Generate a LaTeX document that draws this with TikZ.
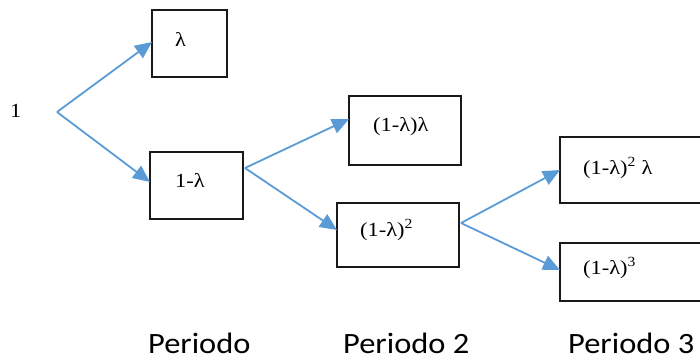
\documentclass[tikz,border=0pt]{standalone}
\usepackage{fontspec}
\setmainfont{Liberation Serif}
\newfontfamily\labfont{Carlito}
\usetikzlibrary{arrows.meta}
\definecolor{arrblue}{RGB}{91,155,213}
\definecolor{boxline}{RGB}{25,25,25}
\tikzset{
  boxnode/.style={draw=boxline, line width=1.4pt, inner sep=0pt},
  boxtext/.style={anchor=west, inner sep=0pt, font=\fontsize{20}{23}\selectfont},
  arr/.style={draw=arrblue, line width=1.8pt, -{Triangle[length=17pt,width=15pt]}},
  perlab/.style={anchor=base west, inner sep=0pt, font=\labfont\fontsize{29.5}{32}\selectfont}
}
\newcommand{\wx}[1]{\scalebox{1.12}[1]{#1}}
\begin{document}
\begin{tikzpicture}[x=1pt,y=-1pt]
\useasboundingbox (0,0) rectangle (700,360);
\begin{scope}
\clip (0,0) rectangle (700,360);
% boxes
\node[boxnode, minimum width=75pt, minimum height=67pt] (b1) at (189.5,43.5) {};
\node[boxnode, minimum width=93pt, minimum height=67pt] (b2) at (196.5,185.5) {};
\node[boxnode, minimum width=112pt, minimum height=69pt] (b3) at (405,130.5) {};
\node[boxnode, minimum width=122pt, minimum height=64pt] (b4) at (398,235) {};
\node[boxnode, minimum width=150pt, minimum height=66pt] (b5) at (635,170) {};
\node[boxnode, minimum width=150pt, minimum height=58pt] (b6) at (635,272) {};
\end{scope}
% texts
\node[boxtext] (one) at (10,111) {\wx{1}};
\node[boxtext] (t1) at (175,39) {\wx{λ}};
\node[boxtext] (t2) at (175,180) {\wx{1-λ}};
\node[boxtext] (t3) at (373,127) {\wx{(1-λ)λ}};
\node[boxtext] (t4) at (360,230) {\wx{(1-λ)\textsuperscript{2}}};
\node[boxtext] (t5) at (583,168) {\wx{(1-λ)\textsuperscript{2} λ}};
\node[boxtext] (t6) at (583,268) {\wx{(1-λ)\textsuperscript{3}}};
% connector points
\coordinate (j0) at (57,112);
\coordinate (j1) at (245,168);
\coordinate (j2) at (461,223);
\coordinate (e1) at (152,42);
\coordinate (e2) at (150,182);
\coordinate (e3) at (349,119);
\coordinate (e4) at (337,230);
\coordinate (e5) at (560,170);
\coordinate (e6) at (560,270);
\draw[arr] (j0) -- (e1);
\draw[arr] (j0) -- (e2);
\draw[arr] (j1) -- (e3);
\draw[arr] (j1) -- (e4);
\draw[arr] (j2) -- (e5);
\draw[arr] (j2) -- (e6);
% period labels
\node[perlab] (p1) at (148,353) {\scalebox{1.1}[1]{Periodo}};
\node[perlab] (p2) at (343,353) {\scalebox{1.1}[1]{Periodo 2}};
\node[perlab] (p3) at (568,353) {\scalebox{1.1}[1]{Periodo 3}};
\end{tikzpicture}
\end{document}
